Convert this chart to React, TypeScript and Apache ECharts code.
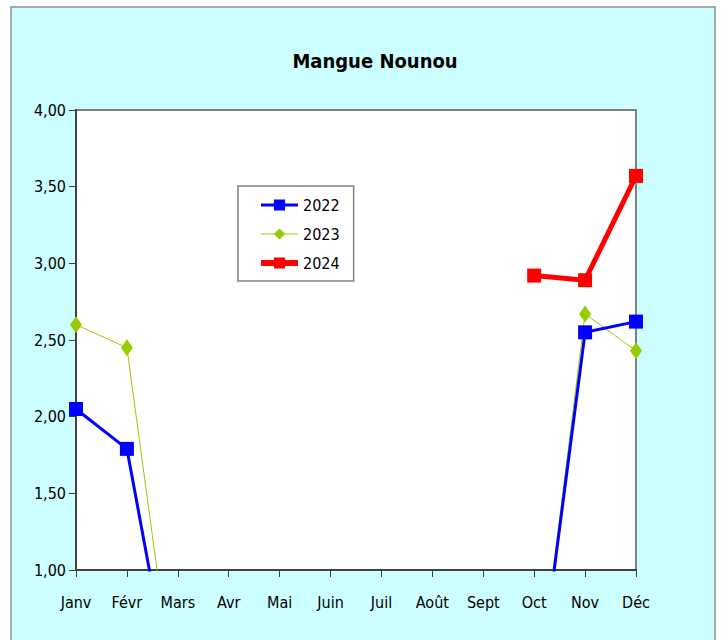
import React, { useEffect, useRef } from "react";
import * as echarts from "echarts";

const months = ["Janv", "Févr", "Mars", "Avr", "Mai", "Juin", "Juil", "Août", "Sept", "Oct", "Nov", "Déc"];
const s2022 = [2.05, 1.79, 0, 0, 0, 0, 0, 0, 0, 0, 2.55, 2.62];
const s2023 = [2.6, 2.45, 0, 0, 0, 0, 0, 0, 0, 0, 2.67, 2.43];
const s2024 = [null, null, null, null, null, null, null, null, null, 2.92, 2.89, 3.57];
const yMin = 1;
const yMax = 4;
const yStep = 0.5;

const FONT = "'Liberation Sans Narrow', 'DejaVu Sans Condensed', 'Liberation Sans', sans-serif";

export default function App() {
  const ref = useRef<HTMLDivElement>(null);
  useEffect(() => {
    const chart = echarts.init(ref.current!, null, { renderer: "svg" });
    chart.setOption({
      animation: false,
      backgroundColor: "#ffffff",
      textStyle: { fontFamily: FONT },
      graphic: [
        {
          type: "rect",
          z: -10,
          shape: { x: 11, y: 7, width: 704, height: 650 },
          style: { fill: "#CCFFFF", stroke: "#909090", lineWidth: 1.5 },
        },
      ],
      title: {
        text: "Mangue Nounou",
        left: 370,
        top: 46,
        textAlign: "center",
        textStyle: { fontFamily: FONT, fontSize: 20, fontWeight: "bold", color: "#000" },
      },
      legend: {
        orient: "vertical",
        left: 238,
        top: 186,
        padding: [11, 14, 10, 20],
        itemGap: 13,
        itemWidth: 37,
        itemHeight: 14,
        backgroundColor: "#ffffff",
        borderColor: "#808080",
        borderWidth: 1.5,
        textStyle: { fontFamily: FONT, fontSize: 16, color: "#000" },
        data: [
          { name: "2022", lineStyle: { width: 3 } },
          { name: "2023", lineStyle: { width: 1 } },
          { name: "2024", lineStyle: { width: 6 } },
        ],
      },
      grid: {
        left: 76,
        right: 90,
        top: 110,
        bottom: 70,
        show: true,
        backgroundColor: "#ffffff",
        borderColor: "#808080",
        borderWidth: 2,
      },
      xAxis: {
        type: "category",
        data: months,
        boundaryGap: false,
        axisLine: { lineStyle: { color: "#404040", width: 2 } },
        axisTick: { show: true, length: 7, lineStyle: { color: "#404040", width: 1 } },
        axisLabel: { color: "#000", fontFamily: FONT, fontSize: 16, margin: 24, interval: 0 },
        splitLine: { show: false },
      },
      yAxis: {
        type: "value",
        min: yMin,
        max: yMax,
        interval: yStep,
        axisLine: { show: true, lineStyle: { color: "#404040", width: 2 } },
        axisTick: { show: true, length: 7, lineStyle: { color: "#404040", width: 1 } },
        axisLabel: {
          color: "#000",
          fontFamily: FONT,
          fontSize: 16,
          margin: 10,
          formatter: (v: number) => v.toFixed(2).replace(".", ","),
        },
        splitLine: { show: false },
      },
      series: [
        {
          name: "2022",
          type: "line",
          data: s2022,
          clip: true,
          symbol: "rect",
          symbolSize: 14,
          color: "#0000FF",
          lineStyle: { color: "#0000FF", width: 3 },
          itemStyle: { color: "#0000FF" },
          z: 3,
        },
        {
          name: "2023",
          type: "line",
          data: s2023,
          clip: true,
          symbol: "diamond",
          symbolSize: [12, 17],
          color: "#99CC00",
          lineStyle: { color: "#99CC00", width: 1 },
          itemStyle: { color: "#99CC00" },
          z: 2,
        },
        {
          name: "2024",
          type: "line",
          data: s2024,
          clip: true,
          symbol: "rect",
          symbolSize: 14,
          color: "#FF0000",
          lineStyle: { color: "#FF0000", width: 5 },
          itemStyle: { color: "#FF0000" },
          z: 4,
        },
      ],
    });
    return () => chart.dispose();
  }, []);
  return (
    <div
      ref={ref}
      style={{ position: "absolute", left: 0, top: 0, width: 726, height: 640 }}
    />
  );
}
